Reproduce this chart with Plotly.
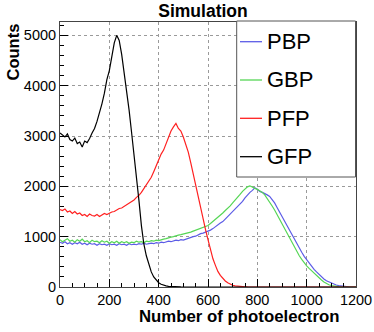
import plotly.graph_objects as go

# bin centres, 10 photoelectron wide
bins = list(range(0, 1210, 10))

pbp = [890, 870, 900, 860, 880, 850, 880, 860, 890, 850,
       870, 840, 870, 850, 860, 830, 860, 840, 850, 830,
       860, 840, 850, 830, 860, 840, 850, 830, 860, 840,
       850, 840, 860, 850, 870, 850, 860, 870, 860, 880,
       870, 890, 880, 900, 910, 900, 920, 930, 920, 940,
       930, 950, 960, 980, 1000, 1010, 1040, 1060, 1070, 1090,
       1100, 1130, 1160, 1200, 1230, 1270, 1300, 1350, 1390, 1440,
       1480, 1530, 1580, 1640, 1700, 1770, 1830, 1880, 1920, 1970,
       1940, 1900, 1880, 1860, 1830, 1800, 1740, 1670, 1580, 1490,
       1400, 1320, 1220, 1110, 1020, 930, 840, 760, 690, 610,
       540, 470, 410, 350, 300, 250, 200, 160, 125, 100,
       75, 55, 40, 28, 18, 10, 5, 2, 0, 0,
       0]

gbp = [940, 900, 930, 960, 910, 930, 890, 940, 910, 950,
       900, 920, 880, 930, 900, 910, 880, 920, 890, 910,
       870, 900, 880, 910, 870, 900, 880, 900, 870, 890,
       880, 910, 890, 900, 880, 910, 900, 920, 910, 930,
       920, 940, 950, 960, 980, 990, 1000, 1020, 1030, 1040,
       1050, 1060, 1070, 1090, 1110, 1130, 1140, 1160, 1180, 1200,
       1220, 1260, 1300, 1340, 1380, 1420, 1470, 1520, 1560, 1610,
       1670, 1720, 1780, 1840, 1900, 1950, 1990, 2010, 1980, 1960,
       1940, 1910, 1880, 1830, 1760, 1700, 1610, 1530, 1440, 1340,
       1250, 1160, 1060, 960, 880, 800, 710, 620, 550, 480,
       420, 370, 320, 270, 220, 180, 140, 100, 70, 45,
       30, 18, 10, 6, 3, 1, 0, 0, 0, 0,
       0]

pfp = [1540, 1520, 1550, 1490, 1510, 1460, 1500, 1450, 1470, 1420,
       1440, 1400, 1450, 1420, 1410, 1440, 1400, 1430, 1460, 1440,
       1470, 1490, 1500, 1530, 1560, 1570, 1600, 1640, 1660, 1700,
       1730, 1780, 1820, 1880, 1950, 2020, 2100, 2180, 2290, 2420,
       2520, 2640, 2720, 2860, 3000, 3100, 3180, 3250, 3150, 3100,
       2980, 2850, 2680, 2470, 2240, 2000, 1800, 1560, 1340, 1140,
       940, 730, 560, 430, 310, 230, 170, 120, 85, 55,
       35, 22, 14, 8, 5, 3, 1, 0, 0, 0,
       0, 0, 0, 0, 0, 0, 0, 0, 0, 0,
       0, 0, 0, 0, 0, 0, 0, 0, 0, 0,
       0, 0, 0, 0, 0, 0, 0, 0, 0, 0,
       0, 0, 0, 0, 0, 0, 0, 0, 0, 0,
       0]

gfp = [3060, 3010, 2980, 3040, 2930, 2900, 2960, 2850, 2880, 2780,
       2900, 2870, 2950, 3060, 3150, 3290, 3450, 3640, 3850, 4120,
       4300, 4560, 4850, 5000, 4900, 4620, 4250, 3960, 3520, 3080,
       2650, 2200, 1720, 1220, 850, 620, 440, 300, 200, 130,
       85, 55, 35, 22, 14, 9, 5, 3, 2, 1,
       0, 0, 0, 0, 0, 0, 0, 0, 0, 0,
       0, 0, 0, 0, 0, 0, 0, 0, 0, 0,
       0, 0, 0, 0, 0, 0, 0, 0, 0, 0,
       0, 0, 0, 0, 0, 0, 0, 0, 0, 0,
       0, 0, 0, 0, 0, 0, 0, 0, 0, 0,
       0, 0, 0, 0, 0, 0, 0, 0, 0, 0,
       0, 0, 0, 0, 0, 0, 0, 0, 0, 0,
       0]

names = ['PBP', 'GBP', 'PFP', 'GFP']
series = [pbp, gbp, pfp, gfp]
colors = ['#5c5ce6', '#55d655', '#ff2020', '#000000']

FONT = 'Liberation Sans, Arial, sans-serif'
W, H = 374, 332
L, R, T, B = 60, 18, 22, 45
PW, PH = W - L - R, H - T - B


def px(x):
    return (x - L) / PW


def py(y):
    return (H - B - y) / PH


fig = go.Figure()
for name, ys, col in zip(names, series, colors):
    fig.add_trace(go.Scatter(
        x=bins, y=ys, name=name, mode='lines',
        line=dict(color=col, width=1.2),
        showlegend=False))

# ROOT style legend box
shapes = [dict(type='rect', xref='paper', yref='paper',
               x0=px(236.7), x1=px(355.5), y0=py(177), y1=py(21),
               line=dict(color='#555555', width=1), fillcolor='white',
               layer='above')]
annotations = []
row_y = [41.7, 80, 118.3, 156.7]
for name, col, yy in zip(names, colors, row_y):
    shapes.append(dict(type='line', xref='paper', yref='paper',
                       x0=px(240), x1=px(262), y0=py(yy), y1=py(yy),
                       line=dict(color=col, width=1.3), layer='above'))
    annotations.append(dict(text=name, xref='paper', yref='paper',
                            x=px(265), y=py(yy), xanchor='left', yanchor='middle',
                            showarrow=False, font=dict(size=22, color='black', family=FONT)))

annotations.append(dict(text='<b>Counts</b>', xref='paper', yref='paper',
                        x=px(12), y=py(22), xanchor='center', yanchor='top',
                        textangle=-90, showarrow=False,
                        font=dict(size=16.5, color='black', family=FONT)))
annotations.append(dict(text='<b>Number of photoelectron</b>', xref='paper', yref='paper',
                        x=px(341), y=py(316), xanchor='right', yanchor='middle',
                        showarrow=False, font=dict(size=16.8, color='black', family=FONT)))

axis_common = dict(
    showline=True, mirror=True, linecolor='#444444', linewidth=1,
    ticks='inside', ticklen=8, tickcolor='black', tickwidth=1,
    showgrid=True, gridcolor='#9a9a9a', griddash='dot', gridwidth=1,
    zeroline=False, automargin=False,
    tickfont=dict(size=14.5, color='black', family=FONT),
)

fig.update_layout(
    width=W, height=H,
    margin=dict(l=L, r=R, t=T, b=B, autoexpand=False),
    paper_bgcolor='white', plot_bgcolor='white',
    title=dict(text='<b>Simulation</b>', x=203 / W, xref='container',
               y=1 - 11 / H, yref='container', xanchor='center', yanchor='middle',
               font=dict(size=17.5, color='black', family=FONT)),
    xaxis=dict(range=[0, 1200], tickvals=[0, 200, 400, 600, 800, 1000, 1200],
               minor=dict(dtick=50, ticks='inside', ticklen=4, tickcolor='black', showgrid=False),
               **axis_common),
    yaxis=dict(range=[0, 5265], tickvals=[0, 1000, 2000, 3000, 4000, 5000],
               minor=dict(dtick=200, ticks='inside', ticklen=4, tickcolor='black', showgrid=False),
               **axis_common),
    shapes=shapes,
    annotations=annotations,
    showlegend=False,
)

# drop the default page margin so the figure sits at the window's corner
fig.write_html("out.html", config={'displayModeBar': False},
               post_script="document.body.style.margin='0';document.body.style.overflow='hidden';")
